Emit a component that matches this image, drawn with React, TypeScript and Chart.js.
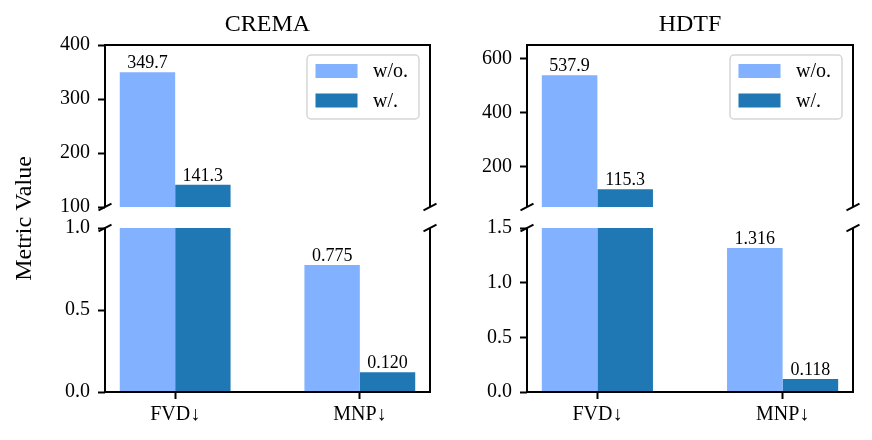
import React, { useEffect, useRef } from 'react';
import { Chart, registerables } from 'chart.js';

Chart.register(...registerables);

// ---- data ----
const categories = ['FVD↓', 'MNP↓'];
const seriesNames = ['w/o.', 'w/.'];
const seriesColors = ['#82b1ff', '#1f77b4'];

const cremaWithout = [349.7, 0.775];
const cremaWith = [141.3, 0.12];
const hdtfWithout = [537.9, 1.316];
const hdtfWith = [115.3, 0.118];

const cremaTopTicks = [100, 200, 300, 400];
const cremaBottomTicks = [0, 0.5, 1.0];
const hdtfTopTicks = [200, 400, 600];
const hdtfBottomTicks = [0, 0.5, 1.0, 1.5];

const cremaTopRange = [100, 400];
const cremaBottomRange = [0, 1.0];
const hdtfTopRange = [50, 650];
const hdtfBottomRange = [0, 1.5];

const xRange = [-0.38, 1.38];

// ---- layout ----
const W = 872;
const H = 440;
const TOP_Y0 = 45;
const TOP_Y1 = 207;
const BOT_Y0 = 228;
const BOT_Y1 = 392;
const Y_AXIS_W = 60;
const X_AXIS_H = 40;
const FONT = "'Liberation Serif', 'Times New Roman', serif";

type Part = 'top' | 'bottom';

interface Panel {
  title: string;
  without: number[];
  withV: number[];
  topTicks: number[];
  topRange: number[];
  bottomTicks: number[];
  bottomRange: number[];
  left: number;
  right: number;
  yLabel: boolean;
}

const panels: Panel[] = [
  {
    title: 'CREMA',
    without: cremaWithout,
    withV: cremaWith,
    topTicks: cremaTopTicks,
    topRange: cremaTopRange,
    bottomTicks: cremaBottomTicks,
    bottomRange: cremaBottomRange,
    left: 105,
    right: 430,
    yLabel: true,
  },
  {
    title: 'HDTF',
    without: hdtfWithout,
    withV: hdtfWith,
    topTicks: hdtfTopTicks,
    topRange: hdtfTopRange,
    bottomTicks: hdtfBottomTicks,
    bottomRange: hdtfBottomRange,
    left: 527,
    right: 853,
    yLabel: false,
  },
];

const fmtValue = (v: number) => (v >= 10 ? v.toFixed(1) : v.toFixed(3));

function decorPlugin(panel: Panel, part: Part) {
  return {
    id: 'decor',
    afterDatasetsDraw(chart: any) {
      // value labels above bars whose tops fall inside this sub-axis
      const ctx = chart.ctx;
      const y = chart.scales.y;
      ctx.save();
      ctx.fillStyle = '#000';
      ctx.font = `18px ${FONT}`;
      ctx.textAlign = 'center';
      ctx.textBaseline = 'alphabetic';
      chart.data.datasets.forEach((ds: any, di: number) => {
        const meta = chart.getDatasetMeta(di);
        meta.data.forEach((el: any, i: number) => {
          const v = ds.data[i].y;
          if (v >= y.min && v <= y.max) {
            ctx.fillText(fmtValue(v), el.x, el.y - 4);
          }
        });
      });
      ctx.restore();
    },
    afterDraw(chart: any) {
      const ctx = chart.ctx;
      const a = chart.chartArea;
      ctx.save();
      ctx.strokeStyle = '#000';
      ctx.lineWidth = 2;
      ctx.lineJoin = 'miter';
      // spines (the side facing the break is left open)
      ctx.beginPath();
      if (part === 'top') {
        ctx.moveTo(a.left, a.bottom);
        ctx.lineTo(a.left, a.top);
        ctx.lineTo(a.right, a.top);
        ctx.lineTo(a.right, a.bottom);
      } else {
        ctx.moveTo(a.left, a.top);
        ctx.lineTo(a.left, a.bottom);
        ctx.lineTo(a.right, a.bottom);
        ctx.lineTo(a.right, a.top);
      }
      ctx.stroke();
      // diagonal break marks
      const by = part === 'top' ? a.bottom : a.top;
      ctx.beginPath();
      [a.left, a.right].forEach((bx: number) => {
        ctx.moveTo(bx - 6.5, by + 3.3);
        ctx.lineTo(bx + 6.5, by - 3.3);
      });
      ctx.stroke();

      if (part === 'top') {
        // title
        ctx.fillStyle = '#000';
        ctx.font = `24px ${FONT}`;
        ctx.textAlign = 'center';
        ctx.textBaseline = 'alphabetic';
        ctx.fillText(panel.title, (a.left + a.right) / 2, 31);

        // legend
        const bw = 112;
        const bh = 64;
        const bx = a.right - 11 - bw;
        const byy = a.top + 10;
        ctx.beginPath();
        ctx.roundRect(bx, byy, bw, bh, 4);
        ctx.fillStyle = 'rgba(255,255,255,0.8)';
        ctx.fill();
        ctx.strokeStyle = '#d6d6d6';
        ctx.lineWidth = 1.5;
        ctx.stroke();
        ctx.font = `20px ${FONT}`;
        ctx.textAlign = 'left';
        ctx.textBaseline = 'middle';
        seriesNames.forEach((name, i) => {
          const cy = byy + 16 + i * 29.5;
          ctx.fillStyle = seriesColors[i];
          ctx.fillRect(bx + 8.5, cy - 7, 42, 14);
          ctx.fillStyle = '#000';
          ctx.fillText(name, bx + 66, cy + 1);
        });

        if (panel.yLabel) {
          ctx.save();
          ctx.translate(25, (TOP_Y0 + BOT_Y1) / 2);
          ctx.rotate(-Math.PI / 2);
          ctx.font = `24px ${FONT}`;
          ctx.textAlign = 'center';
          ctx.textBaseline = 'middle';
          ctx.fillStyle = '#000';
          ctx.fillText('Metric Value', 0, 0);
          ctx.restore();
        }
      }
      ctx.restore();
    },
  };
}

function makeChart(canvas: HTMLCanvasElement, panel: Panel, part: Part) {
  const y0 = part === 'top' ? TOP_Y0 : BOT_Y0;
  const y1 = part === 'top' ? TOP_Y1 : BOT_Y1;
  const ticks = part === 'top' ? panel.topTicks : panel.bottomTicks;
  const range = part === 'top' ? panel.topRange : panel.bottomRange;
  const tickGrid = {
    display: true,
    drawOnChartArea: false,
    drawTicks: true,
    tickLength: 7,
    tickWidth: 2,
    tickColor: '#000',
    offset: false,
  };
  const series = [panel.without, panel.withV];

  return new Chart(canvas, {
    type: 'bar',
    data: {
      datasets: series.map((vals, si) => ({
        label: seriesNames[si],
        data: vals.map((v, i) => ({ x: i, y: v })),
        backgroundColor: seriesColors[si],
        borderWidth: 0,
        categoryPercentage: 0.6,
        barPercentage: 1.0,
      })),
    },
    options: {
      responsive: false,
      animation: false,
      events: [],
      layout: {
        padding: {
          left: panel.left - Y_AXIS_W,
          right: W - panel.right,
          top: y0,
          bottom: part === 'top' ? H - y1 : H - y1 - X_AXIS_H,
        },
      },
      plugins: {
        legend: { display: false },
        tooltip: { enabled: false },
        title: { display: false },
      },
      scales: {
        x: {
          type: 'linear',
          offset: false,
          min: xRange[0],
          max: xRange[1],
          display: part === 'bottom',
          afterBuildTicks: (s: any) => {
            s.ticks = categories.map((_, i) => ({ value: i }));
          },
          afterFit: (s: any) => {
            s.height = part === 'bottom' ? X_AXIS_H : 0;
          },
          ticks: {
            callback: (v: any) => categories[v] ?? '',
            font: { family: FONT, size: 20 },
            color: '#000',
            padding: 4,
            maxRotation: 0,
            autoSkip: false,
          },
          grid: tickGrid,
          border: { display: false },
        },
        y: {
          type: 'linear',
          min: range[0],
          max: range[1],
          afterBuildTicks: (s: any) => {
            s.ticks = ticks.map((v) => ({ value: v }));
          },
          afterFit: (s: any) => {
            s.width = Y_AXIS_W;
          },
          ticks: {
            callback: (v: any) => (part === 'top' ? String(v) : Number(v).toFixed(1)),
            font: { family: FONT, size: 20 },
            color: '#000',
            padding: 8,
            autoSkip: false,
          },
          grid: tickGrid,
          border: { display: false },
        },
      },
    } as any,
    plugins: [decorPlugin(panel, part)],
  });
}

const layers: { panel: number; part: Part }[] = [
  { panel: 0, part: 'top' },
  { panel: 0, part: 'bottom' },
  { panel: 1, part: 'top' },
  { panel: 1, part: 'bottom' },
];

export default function App() {
  const refs = useRef<(HTMLCanvasElement | null)[]>([]);

  useEffect(() => {
    const charts = layers.map((l, i) => makeChart(refs.current[i]!, panels[l.panel], l.part));
    return () => charts.forEach((c) => c.destroy());
  }, []);

  return (
    <div style={{ position: 'fixed', left: 0, top: 0, width: W, height: H, background: '#fff' }}>
      {layers.map((l, i) => (
        <canvas
          key={i}
          ref={(el) => {
            refs.current[i] = el;
          }}
          width={W}
          height={H}
          style={{ position: 'absolute', left: 0, top: 0, width: W, height: H }}
        />
      ))}
    </div>
  );
}
